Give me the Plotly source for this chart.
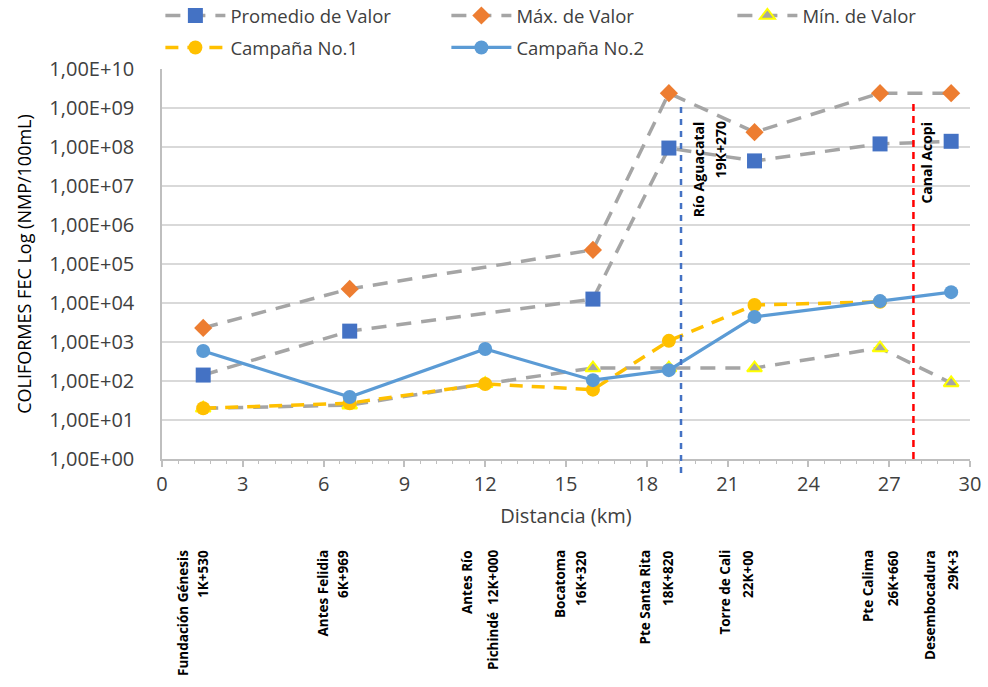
import plotly.graph_objects as go

# Station distances along the river (km)
distancia_km = [1.53, 6.969, 12.0, 16.0, 18.82, 22.0, 26.66, 29.3]

# Fecal coliforms (NMP/100mL) per station
promedio = [142, 1900, None, 12600, 9.4e7, 4.4e7, 1.2e8, 1.4e8]
maximo = [2300, 23000, None, 2.3e5, 2.4e9, 2.4e8, 2.4e9, 2.4e9]
minimo = [20, 24, 85, 215, 215, 215, 700, 89]
campana1 = [20, 27, 84, 60, 1070, 8900, 10700, None]
campana2 = [590, 39, 660, 105, 190, 4400, 11200, 19000]

# Station names and kilometre marks shown below the axis
estacion_nombre = ["Fundación Génesis", "Antes Felidia", "Antes Río", "Bocatoma",
                   "Pte Santa Rita", "Torre de Cali", "Pte Calima", "Desembocadura"]
estacion_pk = ["1K+530", "6K+969", "Pichindé  12K+000", "16K+320",
               "18K+820", "22K+00", "26K+660", "29K+3"]
# column centres (km) of the two text lines of each station label
nombre_x = [0.78, 5.98, 11.33, 14.78, 17.94, 20.91, 26.22, 28.52]
pk_x = [1.52, 6.72, 12.29, 15.56, 18.79, 21.76, 27.15, 29.37]

# Tributary / canal reference lines
aguacatal_km = 19.27
acopi_km = 27.9

ytick_vals = [10 ** k for k in range(0, 11)]
ytick_text = ["1,00E+%02d" % k for k in range(0, 11)]
xtick_vals = list(range(0, 31, 3))

FONT = "Open Sans"
GREY = "#A5A5A5"

fig = go.Figure()

fig.add_trace(go.Scatter(
    x=distancia_km, y=promedio, name="Promedio de Valor", mode="lines+markers",
    connectgaps=True,
    line=dict(color=GREY, width=3.5, dash="15px,10px"),
    marker=dict(symbol="square", size=15, color="#4472C4"),
    legend="legend"))
fig.add_trace(go.Scatter(
    x=distancia_km, y=maximo, name="Máx. de Valor", mode="lines+markers",
    connectgaps=True,
    line=dict(color=GREY, width=3.5, dash="15px,10px"),
    marker=dict(symbol="diamond", size=14, color="#ED7D31"),
    legend="legend"))
fig.add_trace(go.Scatter(
    x=distancia_km, y=minimo, name="Mín. de Valor", mode="lines+markers",
    line=dict(color=GREY, width=3.5, dash="15px,10px"),
    marker=dict(symbol="triangle-up", size=13, color=GREY,
                line=dict(color="#FFFF00", width=2)),
    legend="legend"))
fig.add_trace(go.Scatter(
    x=distancia_km, y=campana1, name="Campaña No.1", mode="lines+markers",
    line=dict(color="#FFC000", width=3.5, dash="13px,9px"),
    marker=dict(symbol="circle", size=14, color="#FFC000"),
    legend="legend2"))
fig.add_trace(go.Scatter(
    x=distancia_km, y=campana2, name="Campaña No.2", mode="lines+markers",
    line=dict(color="#5B9BD5", width=3.2),
    marker=dict(symbol="circle", size=14, color="#5B9BD5"),
    legend="legend2"))

# reference lines for Río Aguacatal and Canal Acopi
fig.add_shape(type="line", xref="x", yref="paper", x0=aguacatal_km, x1=aguacatal_km,
              y0=-0.036, y1=0.913, line=dict(color="#4472C4", width=2.5, dash="6px,6px"))
fig.add_shape(type="line", xref="x", yref="paper", x0=acopi_km, x1=acopi_km,
              y0=0.0, y1=0.913, line=dict(color="#FF0000", width=2.5, dash="7px,5px"))

annotations = []
lab_font = dict(family=FONT, size=13.5, color="#000000", weight="bold")
for nm, pk, xn, xp in zip(estacion_nombre, estacion_pk, nombre_x, pk_x):
    annotations.append(dict(x=xn, y=-0.228, xref="x", yref="paper", text=nm,
                            textangle=-90, xanchor="center", yanchor="top",
                            showarrow=False, font=lab_font))
    annotations.append(dict(x=xp, y=-0.228, xref="x", yref="paper", text=pk,
                            textangle=-90, xanchor="center", yanchor="top",
                            showarrow=False, font=lab_font))

lab_font_big = dict(family=FONT, size=14, color="#000000", weight="bold")
annotations.append(dict(x=19.92, y=0.87, xref="x", yref="paper", text="Río Aguacatal",
                        textangle=-90, xanchor="center", yanchor="top",
                        showarrow=False, font=lab_font_big))
annotations.append(dict(x=20.72, y=0.87, xref="x", yref="paper", text="19K+270",
                        textangle=-90, xanchor="center", yanchor="top",
                        showarrow=False, font=lab_font_big))
annotations.append(dict(x=28.4, y=0.87, xref="x", yref="paper", text="Canal Acopi",
                        textangle=-90, xanchor="center", yanchor="top",
                        showarrow=False, font=lab_font_big))

legend_common = dict(orientation="h", entrywidth=211, entrywidthmode="pixels",
                     itemwidth=60, bgcolor="rgba(0,0,0,0)",
                     font=dict(family=FONT, size=18.5, color="#404040"),
                     xanchor="left", yanchor="middle")

fig.update_layout(
    width=988, height=687,
    margin=dict(l=162, r=18, t=69, b=228, autoexpand=False),
    paper_bgcolor="white", plot_bgcolor="white",
    font=dict(family=FONT, color="#404040"),
    showlegend=True,
    legend=dict(x=-0.002, y=1.136, **legend_common),
    legend2=dict(x=-0.002, y=1.054, **legend_common),
    annotations=annotations,
    xaxis=dict(
        range=[0, 30], tickvals=xtick_vals, showgrid=False, zeroline=False,
        showline=True, linecolor="#BFBFBF", linewidth=1.5,
        ticks="outside", ticklen=6, tickcolor="#BFBFBF", tickwidth=1.5,
        minor=dict(ticks="outside", dtick=0.6, ticklen=3, tickcolor="#BFBFBF", tickwidth=1),
        tickfont=dict(family=FONT, size=20, color="#404040"),
        title=dict(text="Distancia (km)", standoff=13,
                   font=dict(family=FONT, size=20, color="#404040")),
    ),
    yaxis=dict(
        type="log", range=[0, 10], tickvals=ytick_vals, ticktext=ytick_text,
        showgrid=True, gridcolor="#D9D9D9", gridwidth=1.5, zeroline=False,
        showline=True, linecolor="#BFBFBF", linewidth=1.5, ticks="",
        ticklabelstandoff=22,
        tickfont=dict(family=FONT, size=20, color="#404040"),
        title=dict(text="COLIFORMES FEC Log (NMP/100mL)", standoff=13,
                   font=dict(family=FONT, size=18, color="#000000")),
    ),
)

fig.write_html("out.html")
